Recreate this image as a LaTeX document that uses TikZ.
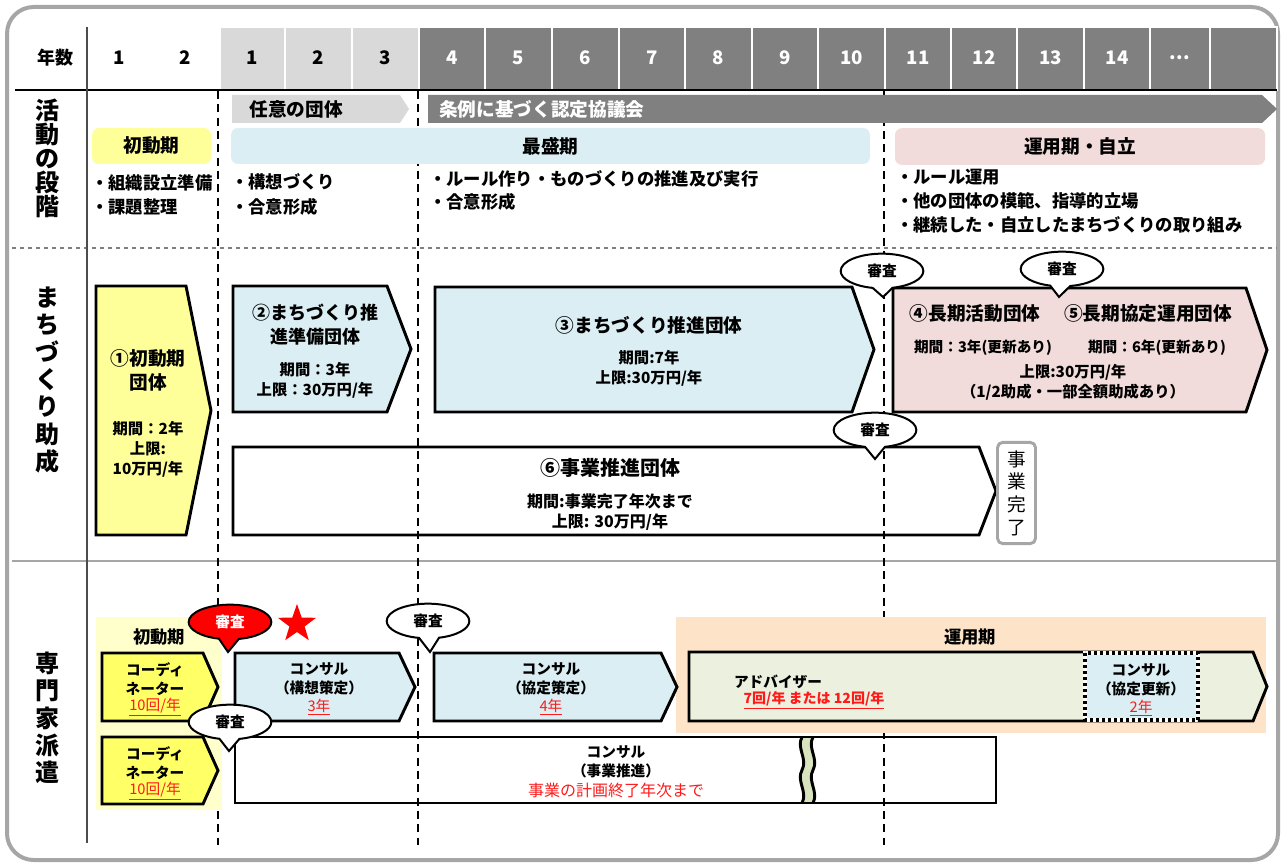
\documentclass[tikz,border=0pt]{standalone}
\usepackage{fontspec}
\setmainfont{Noto Sans CJK JP}
\usetikzlibrary{shapes.geometric,shapes.callouts}
\definecolor{hdrlight}{HTML}{D9D9D9}
\definecolor{hdrdark}{HTML}{808080}
\definecolor{ylw}{HTML}{FFFF99}
\definecolor{ylwS}{HTML}{FFFF66}
\definecolor{ylwbg}{HTML}{FFFFCC}
\definecolor{lblue}{HTML}{DAEEF3}
\definecolor{lpink}{HTML}{F2DCDB}
\definecolor{peach}{HTML}{FDE4C8}
\definecolor{lgreen}{HTML}{EBF1DE}
\definecolor{wgreen}{HTML}{D7E4BD}
\definecolor{framec}{HTML}{A6A6A6}
\definecolor{txtred}{HTML}{FF1A1A}
\newcommand\fs[2]{\fontsize{#1}{#2}\selectfont}
\newcommand\tdots{.\kern0.5pt.\kern0.5pt.}
\newcommand\pent[6]{\draw[#1] (#2,#3) -- (#4,#3) -- (#5,{(#3+#6)/2}) -- (#4,#6) -- (#2,#6) -- cycle;}
\begin{document}
\begin{tikzpicture}[x=0.75pt,y=-0.75pt,
  txt/.style={inner sep=0pt,outer sep=0pt,align=center,font=\bfseries\fs{11.5}{15}},
  hnum/.style={inner sep=0pt,font=\bfseries\fs{14}{16}},
  sect/.style={inner sep=0pt,align=center,font=\bfseries\fs{18}{20.5}},
  stagebox/.style={inner sep=0pt,rounded corners=5pt,font=\bfseries\fs{14}{16}},
  bullet/.style={inner sep=0pt,anchor=west,font=\bfseries\fs{13}{15}},
  shp/.style={draw=black,line width=2.2pt,line join=miter},
  shinsa/.style={ellipse callout,draw=black,fill=white,line width=1.5pt,
    minimum width=62pt,minimum height=26pt,inner sep=0pt,callout pointer arc=28,
    font=\bfseries\fs{11}{12}},
  redu/.style={text=txtred,font=\fs{11}{13}},
  vdash/.style={line width=1pt,dash pattern=on 6pt off 4pt}
]
\useasboundingbox (0,0) rectangle (1284,863);
% frame
\draw[framec,line width=3pt,rounded corners=20pt] (7,7) rectangle (1278,860);

% header
\node[hnum,font=\bfseries\fs{13.5}{15}] (nensu) at (55,58) {年数};
\node[hnum] (y1) at (119,58) {1};
\node[hnum] (y2) at (185,58) {2};
\foreach \a/\b/\t [count=\i] in {220/285/1,285/352/2,352/419/3}{
  \draw[fill=hdrlight,draw=white,line width=1.2pt] (\a,27) rectangle (\b,90);
  \node[hnum] (hl\i) at ({(\a+\b)/2},58) {\t};}
\foreach \a/\b/\t [count=\i] in {419/485/4,485/552/5,552/619/6,619/685/7,685/752/8,752/818/9,818/885/10,885/951/11,951/1017/12,1017/1084/13,1084/1150/14,1150/1210/\tdots,1210/1277/{}}{
  \draw[fill=hdrdark,draw=white,line width=1.2pt] (\a,27) rectangle (\b,90);
  \node[hnum,text=white] (hd\i) at ({(\a+\b)/2},58) {\t};}

% lines
\draw[black,line width=1.2pt] (15,90) -- (1277,90);
\draw[gray,dashed,line width=0.8pt] (12,248) -- (1277,248);
\draw[framec,line width=2pt] (12,561) -- (1279,561);
\draw[black!70,line width=0.8pt] (87,27) -- (87,843);
\draw[vdash] (218,91) -- (218,845);
\draw[vdash] (418,91) -- (418,845);
\draw[vdash] (884,91) -- (884,845);

% section labels
\node[sect,font=\bfseries\fs{18}{18}] (lab1) at (47,158) {活\\動\\の\\段\\階};
\node[sect] (lab2) at (47,380) {ま\\ち\\づ\\く\\り\\助\\成};
\node[sect] (lab3) at (47,718) {専\\門\\家\\派\\遣};

% activity stage
\fill[hdrlight] (232,95) -- (400,95) -- (409,109) -- (400,123) -- (232,123) -- cycle;
\node[hnum] (nin) at (296,109) {任意の団体};
\fill[hdrdark] (428,95) -- (1262,95) -- (1277,109) -- (1262,123) -- (428,123) -- cycle;
\node[hnum,text=white,anchor=west] (jorei) at (439,109) {条例に基づく認定協議会};

\node[stagebox,fill=ylw,minimum width=89pt,minimum height=27pt] (s1) at (151.5,146) {初動期};
\node[stagebox,fill=lblue,minimum width=479pt,minimum height=27pt] (s2) at (550.5,146) {最盛期};
\node[stagebox,fill=lpink,minimum width=277.5pt,minimum height=27.5pt] (s3) at (1080,146.5) {運用期・自立};

\node[bullet] (b1) at (91,183) {・組織設立準備};
\node[bullet] (b2) at (91,207) {・課題整理};
\node[bullet] (b3) at (231,182) {・構想づくり};
\node[bullet] (b4) at (231,207) {・合意形成};
\node[bullet] (b5) at (429,179) {・ルール作り・ものづくりの推進及び実行};
\node[bullet] (b6) at (429,202) {・合意形成};
\node[bullet] (b7) at (896,177) {・ルール運用};
\node[bullet] (b8) at (896,201) {・他の団体の模範、指導的立場};
\node[bullet] (b9) at (896,225) {・継続した・自立したまちづくりの取り組み};

% grants
\pent{shp,fill=ylw}{96}{286}{186}{211}{535}
\node[txt,font=\bfseries\fs{14}{18}] (g1t) at (148,370) {①初動期\\団体};
\node[txt] (g1d) at (148,449) {期間：2年\\上限:\\10万円/年};

\pent{shp,fill=lblue}{233}{286}{387}{411}{412}
\node[txt,font=\bfseries\fs{13.5}{18}] (g2t) at (315,325) {②まちづくり推\\進準備団体};
\node[txt] (g2d) at (315,380) {期間：3年\\上限：30万円/年};

\pent{shp,fill=lblue}{435}{287}{852}{874}{412}
\node[txt,font=\bfseries\fs{14}{18}] (g3t) at (649,325) {③まちづくり推進団体};
\node[txt] (g3d) at (649,368) {期間:7年\\上限:30万円/年};

\pent{shp,fill=lpink}{893}{288}{1246}{1267}{412}
\node[txt,font=\bfseries\fs{14}{18}] (g4t) at (975,313) {④長期活動団体};
\node[txt,font=\bfseries\fs{14}{18}] (g5t) at (1148,313) {⑤長期協定運用団体};
\node[txt,font=\bfseries\fs{11}{14}] (g4d) at (983,348) {期間：3年(更新あり)};
\node[txt,font=\bfseries\fs{11}{14}] (g5d) at (1157,348) {期間：6年(更新あり)};
\node[txt] (g45l) at (1073,382) {上限:30万円/年\\（1/2助成・一部全額助成あり）};

\pent{shp}{233}{447}{979}{996}{535}
\node[txt,font=\bfseries\fs{15}{18}] (g6t) at (610,468) {⑥事業推進団体};
\node[txt,font=\bfseries\fs{12}{15}] (g6d) at (610,512) {期間:事業完了年次まで\\上限: 30万円/年};

\node[draw=framec,line width=2.2pt,rounded corners=4pt,fill=white,minimum width=28.5pt,minimum height=76pt,inner sep=0pt,align=center,font=\fs{14}{17}] (kanryo) at (1016.5,493) {事\\業\\完\\了};

% dispatch backgrounds
\fill[ylwbg] (96,617) rectangle (222,810);
\fill[peach] (676,617) rectangle (1266,733);
\node[txt,font=\bfseries\fs{13}{15}] (d1lab) at (159,637) {初動期};
\node[txt,font=\bfseries\fs{13}{15}] (d2lab) at (970,637) {運用期};

\pent{shp,fill=ylwS}{102}{653}{203}{218}{721}
\node[txt,font=\bfseries\fs{11}{14.3}] (co1) at (155,679) {コーディ\\ネーター};
\node[redu] (co1r) at (155,707) {\underline{10回/年}};
\pent{shp,fill=ylwS}{102}{737}{203}{218}{804}
\node[txt,font=\bfseries\fs{11}{14.3}] (co2) at (155,763) {コーディ\\ネーター};
\node[redu] (co2r) at (155,791) {\underline{10回/年}};

\pent{shp,fill=lblue}{235}{653}{399}{415}{721}
\node[txt,font=\bfseries\fs{11}{14.3}] (cs1) at (319,679) {コンサル\\（構想策定）};
\node[redu] (cs1r) at (319,707) {\underline{3年}};

\pent{shp,fill=lblue}{434}{653}{661}{677}{721}
\node[txt,font=\bfseries\fs{11}{14.3}] (cs2) at (551,679) {コンサル\\（協定策定）};
\node[redu] (cs2r) at (551,707) {\underline{4年}};

\pent{shp,fill=lgreen}{689}{652}{1253}{1267}{721}
\node[txt,font=\bfseries\fs{11}{13}] (adv) at (778,682) {アドバイザー};
\node[txt,text=txtred,font=\bfseries\fs{10.5}{13}] (advr) at (814,700) {\underline{7回/年 または 12回/年}};

\draw[draw=white,fill=lblue,line width=2.5pt] (1085,653) rectangle (1198,720);
\draw[line width=2.5pt,dash pattern=on 2.5pt off 2pt] (1085,653) rectangle (1198,720);
\node[txt,font=\bfseries\fs{11}{14.3}] (cs3) at (1141,680) {コンサル\\（協定更新）};
\node[redu] (cs3r) at (1141,708) {\underline{2年}};

% consult business promotion with wavy break
\fill[wgreen] (802,737) .. controls (796,748) and (808,759) .. (802,770) .. controls (796,781) and (808,792) .. (802,803) -- (813,803) .. controls (819,792) and (807,781) .. (813,770) .. controls (819,759) and (807,748) .. (813,737) -- cycle;
\draw[shp] (235,737) rectangle (996,803);
\draw[line width=2.2pt] (802,737) .. controls (796,748) and (808,759) .. (802,770) .. controls (796,781) and (808,792) .. (802,803);
\draw[line width=2.2pt] (813,737) .. controls (807,748) and (819,759) .. (813,770) .. controls (807,781) and (819,792) .. (813,803);
\node[txt,font=\bfseries\fs{11}{14.3}] (cs4) at (616,762) {コンサル\\（事業推進）};
\node[txt,text=txtred,font=\fs{12}{14}] (cs4r) at (616,790) {事業の計画終了年次まで};

% callouts
\node[shinsa,callout absolute pointer={(883,297)}] (c1) at (882,271) {審査};
\node[shinsa,callout absolute pointer={(1059,297)}] (c2) at (1062,269) {審査};
\node[shinsa,callout absolute pointer={(875,459)}] (c3) at (875,430) {審査};
\node[shinsa,fill=red,text=white,callout absolute pointer={(228,652)}] (c4) at (230,622) {審査};
\node[shinsa,callout absolute pointer={(430,652)}] (c5) at (428,621) {審査};
\node[shinsa,callout absolute pointer={(229,751)}] (c6) at (230,722) {審査};
\node[star,star points=5,star point ratio=2.5,fill=red,minimum size=30pt,inner sep=0pt] (star) at (297,624) {};
\end{tikzpicture}
\end{document}
